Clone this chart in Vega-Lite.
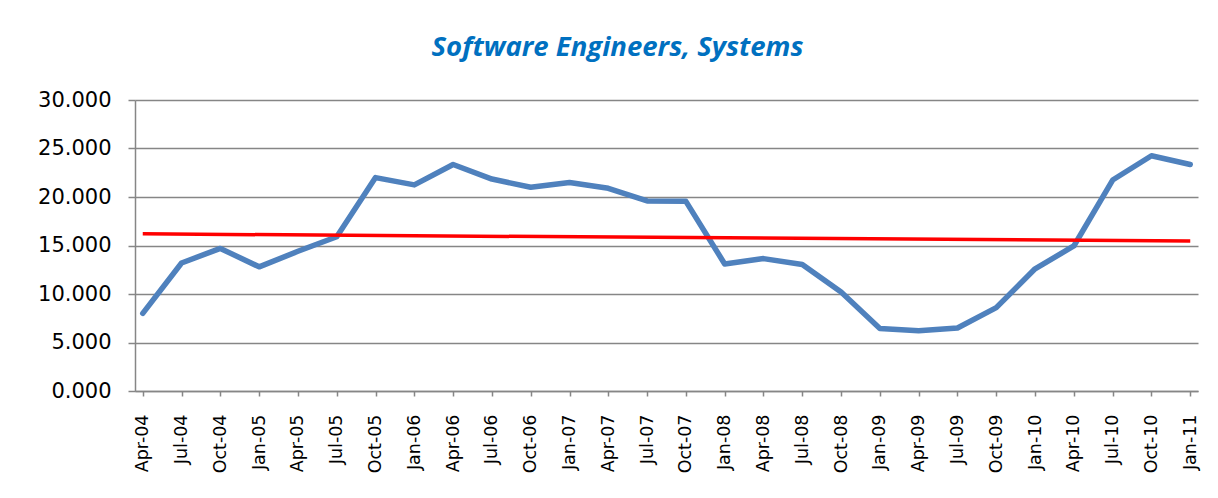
{
  "$schema": "https://vega.github.io/schema/vega-lite/v6.json",
  "autosize": {"type": "none"},
  "width": 1063,
  "height": 291,
  "padding": {"left": 135, "top": 100, "right": 20, "bottom": 107},
  "background": "white",
  "title": {
    "text": "Software Engineers, Systems",
    "font": "Open Sans",
    "fontSize": 27.5,
    "fontStyle": "italic",
    "fontWeight": "bold",
    "color": "#0070C0",
    "anchor": "middle",
    "dx": -49,
    "offset": 28
  },
  "datasets": {
    "main": [
      {"q": "Apr-04", "v": 8.0},
      {"q": "Jul-04", "v": 13.2},
      {"q": "Oct-04", "v": 14.7},
      {"q": "Jan-05", "v": 12.8},
      {"q": "Apr-05", "v": 14.4},
      {"q": "Jul-05", "v": 15.9},
      {"q": "Oct-05", "v": 22.0},
      {"q": "Jan-06", "v": 21.25},
      {"q": "Apr-06", "v": 23.35},
      {"q": "Jul-06", "v": 21.85},
      {"q": "Oct-06", "v": 21.0},
      {"q": "Jan-07", "v": 21.5},
      {"q": "Apr-07", "v": 20.9},
      {"q": "Jul-07", "v": 19.6},
      {"q": "Oct-07", "v": 19.55},
      {"q": "Jan-08", "v": 13.1},
      {"q": "Apr-08", "v": 13.65},
      {"q": "Jul-08", "v": 13.05},
      {"q": "Oct-08", "v": 10.2},
      {"q": "Jan-09", "v": 6.45},
      {"q": "Apr-09", "v": 6.2},
      {"q": "Jul-09", "v": 6.5},
      {"q": "Oct-09", "v": 8.6},
      {"q": "Jan-10", "v": 12.6},
      {"q": "Apr-10", "v": 14.95},
      {"q": "Jul-10", "v": 21.75},
      {"q": "Oct-10", "v": 24.25},
      {"q": "Jan-11", "v": 23.35}
    ],
    "trend": [
      {"q": "Apr-04", "v": 16.2},
      {"q": "Jan-11", "v": 15.46}
    ]
  },
  "config": {
    "view": {"stroke": null},
    "axis": {"domainColor": "#868686", "tickColor": "#868686", "gridColor": "#868686"}
  },
  "encoding": {
    "x": {
      "field": "q",
      "type": "ordinal",
      "sort": null,
      "scale": {
        "type": "point",
        "padding": 0.2,
        "domain": ["Apr-04","Jul-04","Oct-04","Jan-05","Apr-05","Jul-05","Oct-05","Jan-06","Apr-06","Jul-06","Oct-06","Jan-07","Apr-07","Jul-07","Oct-07","Jan-08","Apr-08","Jul-08","Oct-08","Jan-09","Apr-09","Jul-09","Oct-09","Jan-10","Apr-10","Jul-10","Oct-10","Jan-11"]
      },
      "axis": {
        "title": null,
        "labelAngle": -90,
        "labelAlign": "right",
        "labelBaseline": "middle",
        "labelFont": "DejaVu Sans",
        "labelFontSize": 17.5,
        "labelColor": "#000000",
        "labelPadding": 18,
        "tickSize": 5,
        "domainWidth": 1.5,
        "tickWidth": 1.5,
        "grid": false
      }
    },
    "y": {
      "field": "v",
      "type": "quantitative",
      "scale": {"domain": [0, 30], "nice": false, "zero": true},
      "axis": {
        "title": null,
        "values": [0, 5, 10, 15, 20, 25, 30],
        "format": ".3f",
        "labelFont": "DejaVu Sans",
        "labelFontSize": 21,
        "labelColor": "#000000",
        "labelPadding": 17,
        "tickSize": 7,
        "tickWidth": 1.5,
        "domainWidth": 1.5,
        "grid": true,
        "gridWidth": 1.5
      }
    }
  },
  "layer": [
    {
      "data": {"name": "main"},
      "mark": {"type": "line", "color": "#4F81BD", "strokeWidth": 5.5, "strokeJoin": "round", "strokeCap": "round"}
    },
    {
      "data": {"name": "trend"},
      "mark": {"type": "line", "color": "#FF0000", "strokeWidth": 3.5}
    }
  ]
}
